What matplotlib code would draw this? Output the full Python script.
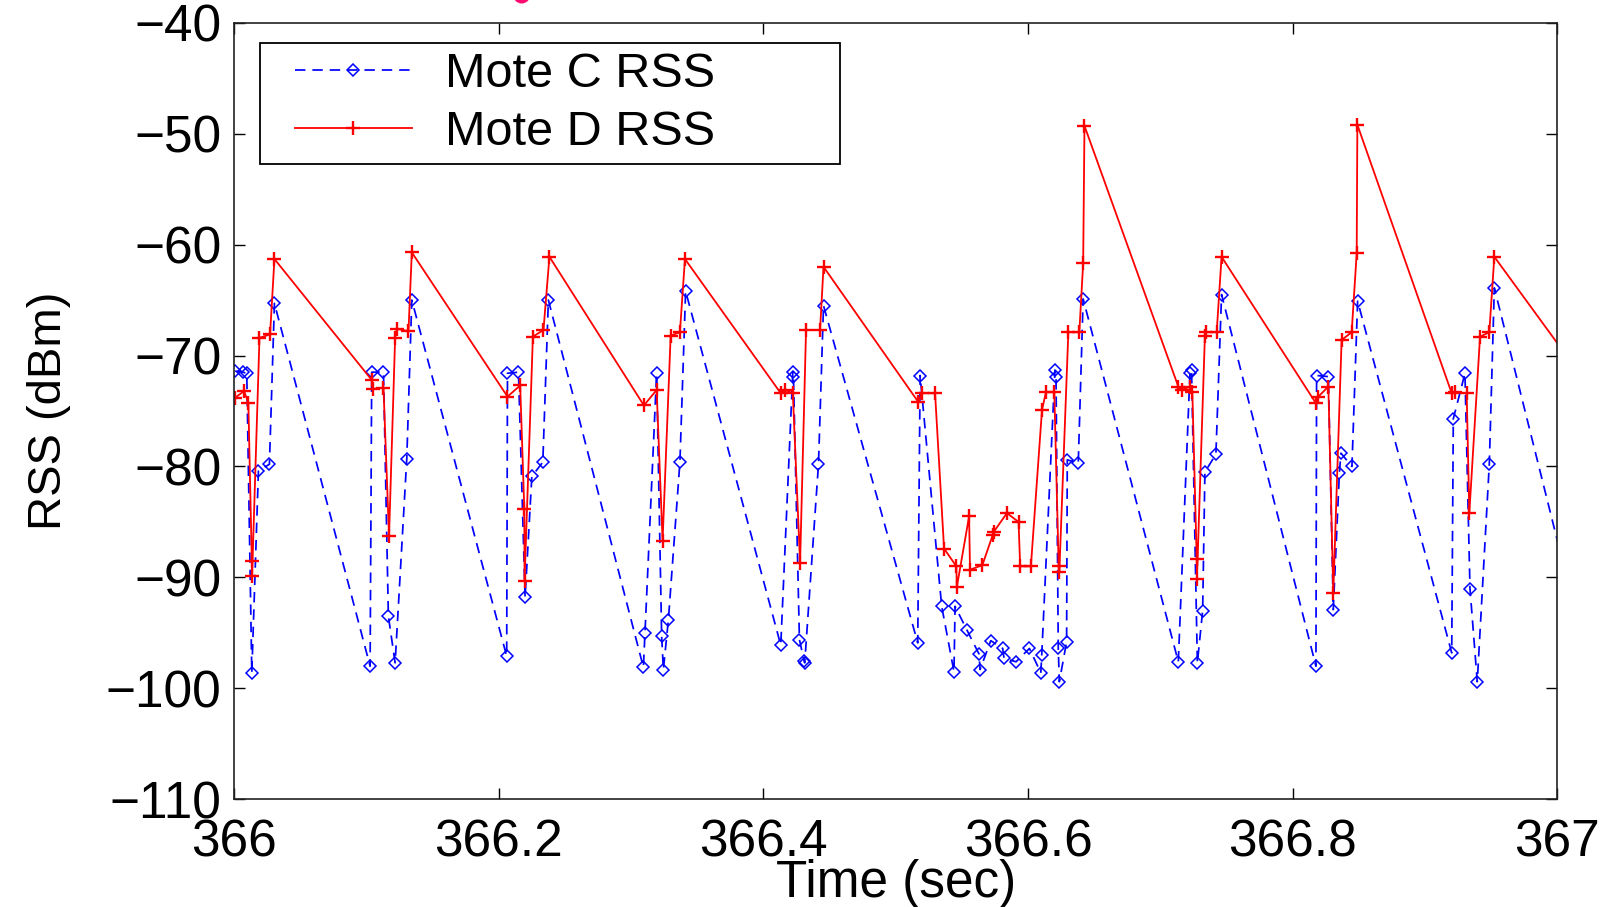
import matplotlib
matplotlib.use("Agg")
import matplotlib.pyplot as plt
from matplotlib.legend_handler import HandlerLine2D
from matplotlib.patches import Ellipse

plt.rcParams['font.family'] = ['Liberation Sans', 'DejaVu Sans']

# ---------------- data ----------------
mote_c_time = [
    366.0008, 366.0065, 366.0096, 366.0134, 366.0184, 366.0267, 366.0305,
    366.1028, 366.1040, 366.1129, 366.1166, 366.1217, 366.1305, 366.1343,
    366.2060, 366.2066, 366.2149, 366.2199, 366.2250, 366.2333, 366.2375,
    366.3093, 366.3105, 366.3193, 366.3231, 366.3244, 366.3282, 366.3369, 366.3412,
    366.4131, 366.4222, 366.4227, 366.4272, 366.4307, 366.4312, 366.4416, 366.4454,
    366.5166, 366.5184, 366.5347, 366.5440, 366.5448, 366.5536, 366.5629, 366.5637,
    366.5718, 366.5808, 366.5818, 366.5909, 366.6010, 366.6096, 366.6103, 366.6203,
    366.6211, 366.6228, 366.6236, 366.6291, 366.6296, 366.6379, 366.6416,
    366.7135, 366.7223, 366.7235, 366.7279, 366.7319, 366.7336, 366.7419, 366.7462,
    366.8175, 366.8180, 366.8269, 366.8306, 366.8352, 366.8364, 366.8447, 366.8490,
    366.9201, 366.9213, 366.9301, 366.9339, 366.9394, 366.9485, 366.9523, 367.0215,
]
mote_c_rss = [
    -71.4, -71.5, -71.6, -98.6, -80.4, -79.8, -65.3,
    -98.0, -71.5, -71.5, -93.5, -97.7, -79.3, -65.0,
    -97.1, -71.6, -71.5, -91.8, -80.9, -79.6, -65.0,
    -98.1, -95.0, -71.6, -95.3, -98.3, -93.8, -79.6, -64.2,
    -96.1, -71.5, -71.9, -95.6, -97.5, -97.7, -79.8, -65.5,
    -95.9, -71.8, -92.6, -98.5, -92.6, -94.7, -96.9, -98.3,
    -95.7, -96.4, -97.3, -97.6, -96.4, -98.6, -97.0, -71.3,
    -71.9, -96.4, -99.4, -95.8, -79.4, -79.7, -64.9,
    -97.6, -71.6, -71.3, -97.7, -93.0, -80.5, -78.9, -64.5,
    -98.0, -71.8, -71.9, -92.9, -80.6, -78.8, -80.0, -65.1,
    -96.8, -75.7, -71.6, -91.0, -99.4, -79.8, -63.9, -97.0,
]

mote_d_time = [
    366.0008, 366.0076, 366.0108, 366.0134, 366.0136, 366.0192, 366.0272, 366.0305,
    366.1040, 366.1050, 366.1129, 366.1171, 366.1217, 366.1230, 366.1318, 366.1343,
    366.2066, 366.2162, 366.2193, 366.2195, 366.2258, 366.2338, 366.2383,
    366.3097, 366.3193, 366.3238, 366.3299, 366.3369, 366.3407,
    366.4131, 366.4164, 366.4222, 366.4277, 366.4322, 366.4428, 366.4454,
    366.5171, 366.5196, 366.5297, 366.5365, 366.5458, 366.5461, 366.5554, 366.5561,
    366.5654, 366.5732, 366.5740, 366.5840, 366.5928, 366.5940, 366.6021, 366.6105,
    366.6135, 366.6198, 366.6231, 366.6236, 366.6304, 366.6387, 366.6416, 366.6426,
    366.7135, 366.7160, 366.7223, 366.7241, 366.7274, 366.7276, 366.7336, 366.7345,
    366.7425, 366.7462,
    366.8175, 366.8193, 366.8269, 366.8306, 366.8369, 366.8445, 366.8483, 366.8488,
    366.9201, 366.9226, 366.9314, 366.9334, 366.9415, 366.9485, 366.9523, 367.0220,
]
mote_d_rss = [
    -73.8, -73.2, -74.3, -88.5, -89.9, -68.4, -68.1, -61.3,
    -72.2, -73.0, -72.9, -86.3, -68.4, -67.6, -67.8, -60.7,
    -73.7, -72.7, -83.8, -90.3, -68.3, -67.7, -61.1,
    -74.5, -73.1, -86.7, -68.2, -67.9, -61.3,
    -73.4, -73.1, -73.4, -88.7, -67.7, -67.7, -62.0,
    -74.2, -73.4, -73.4, -87.4, -89.0, -90.9, -84.5, -89.3,
    -88.9, -86.2, -85.9, -84.2, -85.0, -89.0, -89.0, -74.9,
    -73.3, -73.3, -89.0, -89.5, -67.9, -67.9, -61.7, -49.3,
    -72.8, -73.1, -72.8, -73.3, -88.3, -90.1, -68.2, -67.9,
    -67.9, -61.1,
    -74.3, -73.7, -72.8, -91.4, -68.6, -67.9, -60.8, -49.2,
    -73.4, -73.3, -73.4, -84.2, -68.3, -67.9, -61.1, -72.5,
]

series_labels = ["Mote C RSS", "Mote D RSS"]
x_ticks = [366.0, 366.2, 366.4, 366.6, 366.8, 367.0]
x_tick_labels = ["366", "366.2", "366.4", "366.6", "366.8", "367"]
y_ticks = [-110, -100, -90, -80, -70, -60, -50, -40]
x_label = "Time (sec)"
y_label = "RSS (dBm)"


class InsetLineHandler(HandlerLine2D):
    """Legend line handle that starts a bit inside its handle box."""

    def __init__(self, inset, **kw):
        super().__init__(**kw)
        self._inset = inset

    def get_xdata(self, legend, xdescent, ydescent, width, height, fontsize):
        x0 = -xdescent + self._inset * fontsize
        x1 = -xdescent + width
        return [x0, x1], [0.5 * (x0 + x1)]


fig = plt.figure(figsize=(16.21, 9.07), dpi=100)
ax = fig.add_axes([0.1444, 0.1187, 0.8164, 0.8563])

line_c, = ax.plot(mote_c_time, mote_c_rss, color='#0000ff', lw=1.25,
                  linestyle=(0, (6, 4)), marker='D', markersize=6,
                  markerfacecolor='none', markeredgecolor='#0000ff',
                  markeredgewidth=1.1, label=series_labels[0])
line_d, = ax.plot(mote_d_time, mote_d_rss, color='#ff0000', lw=1.3,
                  linestyle='-', marker='+', markersize=10,
                  markeredgewidth=1.7, label=series_labels[1])

ax.set_xlim(366, 367)
ax.set_ylim(-110, -40)
ax.set_xticks(x_ticks)
ax.set_xticklabels(x_tick_labels)
ax.set_yticks(y_ticks)

ax.tick_params(axis='both', direction='in', length=8, width=1.0,
               top=True, right=True, labelsize=37, colors='black')
ax.tick_params(axis='x', pad=14)
ax.tick_params(axis='y', pad=9)
for sp in ax.spines.values():
    sp.set_linewidth(1.2)
    sp.set_color('#222222')

ax.set_xlabel(x_label, fontsize=37)
ax.set_ylabel(y_label, fontsize=34)
ax.xaxis.set_label_coords(0.5, -0.0765)
ax.yaxis.set_label_coords(-0.123, 0.5)

leg = ax.legend(handles=[line_c, line_d], loc='upper left',
                bbox_to_anchor=(0.0193, 0.0, 0.4382, 0.9733), mode='expand',
                borderaxespad=0, fontsize=35, frameon=True, fancybox=False,
                framealpha=1, edgecolor='black', borderpad=0.17,
                labelspacing=0.28, handlelength=2.96, handletextpad=0.68,
                handler_map={line_c: InsetLineHandler(0.55),
                             line_d: InsetLineHandler(0.55)})
leg.get_frame().set_linewidth(1.3)

# small magenta dot cut off at the top edge of the image
fig.add_artist(Ellipse((521.7 / 1621, 1.0 + 5 / 907), width=17 / 1621,
                       height=17 / 907, transform=fig.transFigure,
                       facecolor='#ff0a6e', edgecolor='none', clip_on=False))

fig.savefig("out.png", dpi=100)
